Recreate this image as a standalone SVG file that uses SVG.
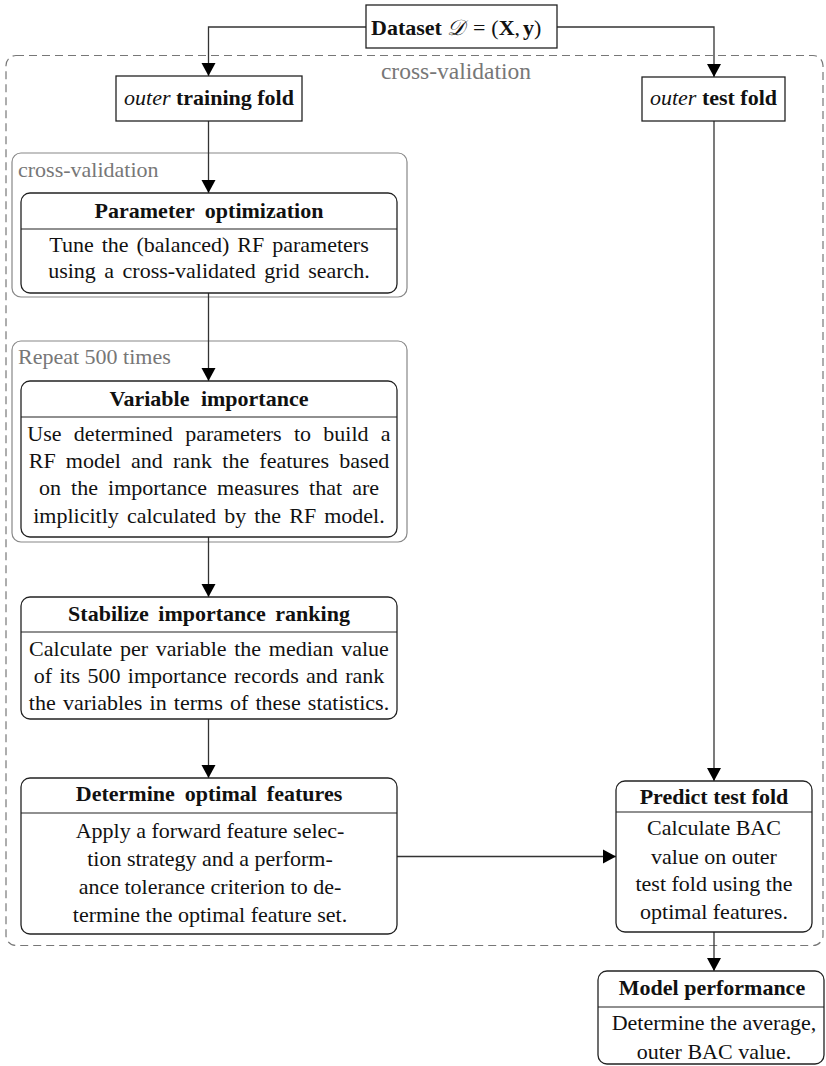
<svg xmlns="http://www.w3.org/2000/svg" width="826" height="1066" viewBox="0 0 826 1066">
  <defs>
    <marker id="arrow" markerUnits="userSpaceOnUse" markerWidth="16" markerHeight="16" viewBox="0 0 16 16" refX="14" refY="8" orient="auto">
      <path d="M1,1 L14,8 L1,15 Z" fill="#000"/>
    </marker>
    <style>
      text { font-family: "Liberation Serif", "Times New Roman", serif; fill: #111; }
      .body { font-size: 22px; text-anchor: middle; }
      .title { font-size: 22px; font-weight: bold; text-anchor: middle; }
      .gray { font-size: 22px; fill: #777; }
      .box { fill: #fff; stroke: #222; stroke-width: 1.3; }
      .rule { stroke: #222; stroke-width: 1.2; }
      .frame { fill: none; stroke: #888; stroke-width: 1.2; }
      .dash { fill: none; stroke: #777; stroke-width: 1.2; stroke-dasharray: 8 5; }
      .conn { fill: none; stroke: #333; stroke-width: 1.3; }
    </style>
  </defs>

  <rect width="826" height="1066" fill="#fff"/>

  <!-- outer cross-validation region -->
  <g id="outer-cv">
    <rect class="dash" x="6" y="55.5" width="817" height="890" rx="10"/>
    <text class="gray" x="456" y="79" text-anchor="middle" style="font-size:23.5px">cross-validation</text>
  </g>

  <!-- inner containers -->
  <g id="inner-cv">
    <rect class="frame" x="12" y="153" width="395" height="144" rx="9"/>
    <text class="gray" x="18" y="177">cross-validation</text>
  </g>
  <g id="repeat">
    <rect class="frame" x="12" y="341" width="395" height="201" rx="9"/>
    <text class="gray" x="18" y="364">Repeat 500 times</text>
  </g>

  <!-- connectors -->
  <g id="connectors">
    <path class="conn" d="M366,27 H208.5 V76" marker-end="url(#arrow)"/>
    <path class="conn" d="M557,27 H714 V77" marker-end="url(#arrow)"/>
    <path class="conn" d="M208.5,121 V193" marker-end="url(#arrow)"/>
    <path class="conn" d="M208.5,293 V381" marker-end="url(#arrow)"/>
    <path class="conn" d="M208.5,537 V597" marker-end="url(#arrow)"/>
    <path class="conn" d="M208.5,719 V778" marker-end="url(#arrow)"/>
    <path class="conn" d="M397,856.5 H616" marker-end="url(#arrow)"/>
    <path class="conn" d="M714,121 V781" marker-end="url(#arrow)"/>
    <path class="conn" d="M714,932 V971" marker-end="url(#arrow)"/>
  </g>

  <!-- dataset -->
  <g id="dataset">
    <rect class="box" x="366" y="5" width="191" height="43"/>
    <text x="371" y="35" font-size="22"><tspan font-weight="bold">Dataset</tspan><tspan dx="5" font-style="italic">𝒟</tspan><tspan dx="8">=</tspan><tspan dx="6">(</tspan><tspan font-weight="bold">X</tspan>,<tspan dx="3" font-weight="bold">y</tspan>)</text>
  </g>

  <!-- outer folds -->
  <g id="training-fold">
    <rect class="box" x="116" y="76" width="186" height="45"/>
    <text x="209" y="105" text-anchor="middle" font-size="22"><tspan font-style="italic">outer</tspan> <tspan font-weight="bold">training fold</tspan></text>
  </g>
  <g id="test-fold">
    <rect class="box" x="642" y="77" width="143" height="44"/>
    <text x="713.5" y="105" text-anchor="middle" font-size="22"><tspan font-style="italic">outer</tspan> <tspan font-weight="bold">test fold</tspan></text>
  </g>

  <!-- parameter optimization -->
  <g id="param-opt">
    <rect class="box" x="21" y="193" width="376" height="100" rx="9"/>
    <line class="rule" x1="21" y1="229" x2="397" y2="229"/>
    <text class="title" x="209" y="218" style="word-spacing:5px">Parameter optimization</text>
    <text class="body" x="209" y="252" style="word-spacing:2.5px">Tune the (balanced) RF parameters</text>
    <text class="body" x="209" y="278" style="word-spacing:3px">using a cross-validated grid search.</text>
  </g>

  <!-- variable importance -->
  <g id="var-imp">
    <rect class="box" x="21" y="381" width="376" height="156" rx="9"/>
    <line class="rule" x1="21" y1="417" x2="397" y2="417"/>
    <text class="title" x="209" y="406" style="word-spacing:6px">Variable importance</text>
    <text class="body" x="209" y="441" style="word-spacing:6.8px">Use determined parameters to build a</text>
    <text class="body" x="209" y="468" style="word-spacing:4.7px">RF model and rank the features based</text>
    <text class="body" x="209" y="495" style="word-spacing:4.6px">on the importance measures that are</text>
    <text class="body" x="209" y="523" style="word-spacing:2.6px">implicitly calculated by the RF model.</text>
  </g>

  <!-- stabilize ranking -->
  <g id="stabilize">
    <rect class="box" x="21" y="597" width="376" height="122" rx="9"/>
    <line class="rule" x1="21" y1="632" x2="397" y2="632"/>
    <text class="title" x="209" y="621" style="word-spacing:4px">Stabilize importance ranking</text>
    <text class="body" x="209" y="656" style="word-spacing:2.2px">Calculate per variable the median value</text>
    <text class="body" x="209" y="683" style="word-spacing:1.8px">of its 500 importance records and rank</text>
    <text class="body" x="209" y="710" style="word-spacing:1.7px">the variables in terms of these statistics.</text>
  </g>

  <!-- optimal features -->
  <g id="optimal">
    <rect class="box" x="21" y="778" width="376" height="156" rx="9"/>
    <line class="rule" x1="21" y1="813" x2="397" y2="813"/>
    <text class="title" x="209" y="801" style="word-spacing:4.5px">Determine optimal features</text>
    <text class="body" x="210" y="838">Apply a forward feature selec-</text>
    <text class="body" x="210" y="866">tion strategy and a perform-</text>
    <text class="body" x="210" y="894">ance tolerance criterion to de-</text>
    <text class="body" x="210" y="922">termine the optimal feature set.</text>
  </g>

  <!-- predict test fold -->
  <g id="predict">
    <rect class="box" x="616" y="781" width="196" height="151" rx="9"/>
    <line class="rule" x1="616" y1="812" x2="812" y2="812"/>
    <text class="title" x="714" y="804">Predict test fold</text>
    <text class="body" x="714" y="835">Calculate BAC</text>
    <text class="body" x="714" y="864">value on outer</text>
    <text class="body" x="714" y="891">test fold using the</text>
    <text class="body" x="714" y="919">optimal features.</text>
  </g>

  <!-- model performance -->
  <g id="performance">
    <rect class="box" x="598" y="971" width="226" height="93" rx="9"/>
    <line class="rule" x1="598" y1="1007" x2="824" y2="1007"/>
    <text class="title" x="712" y="995">Model performance</text>
    <text class="body" x="714" y="1030">Determine the average,</text>
    <text class="body" x="714" y="1059">outer BAC value.</text>
  </g>
</svg>
